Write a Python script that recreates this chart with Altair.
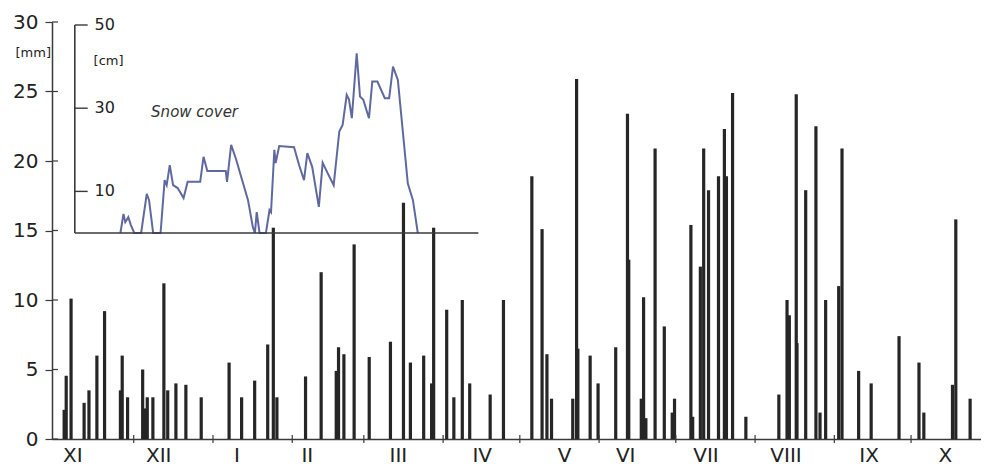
import altair as alt
import pandas as pd

# ---- data ----
months = ["XI", "XII", "I", "II", "III", "IV", "V", "VI", "VII", "VIII", "IX", "X"]
month_label_day = [6.2, 39.8, 70.4, 97.9, 133.5, 166.3, 198.5, 222.4, 253.8, 285.1, 317.6, 347.4]
month_start_day = [30, 61, 92, 120, 151, 181, 212, 242, 273, 304, 334]

bar_day = [2.8, 3.6, 5.5, 10.6, 12.5, 15.6, 18.6, 24.8, 25.5, 27.6, 33.5, 34.3, 35.3, 37.5,
           41.8, 43.3, 46.5, 50.4, 56.4, 67.3, 72.2, 77.3, 82.4, 84.6, 86.0, 97.2, 103.3,
           109.2, 110.1, 112.2, 116.2, 122.1, 130.4, 135.5, 138.2, 143.4, 146.5, 147.3,
           152.4, 155.2, 158.5, 161.4, 169.4, 174.6, 185.7, 189.7, 191.6, 193.4, 201.7,
           203.2, 203.7, 208.5, 211.6, 218.5, 223.1, 223.6, 228.5, 229.4, 230.3, 233.9,
           237.5, 240.6, 241.5, 247.9, 248.6, 251.6, 252.9, 254.8, 258.7, 261.0, 261.8,
           264.2, 269.4, 282.3, 285.5, 286.4, 289.1, 289.4, 292.8, 296.8, 298.4, 300.6,
           305.7, 307.0, 313.5, 318.4, 329.3, 337.1, 339.0, 350.2, 351.5, 357.1]
bar_mm = [2.1, 4.55, 10.1, 2.6, 3.5, 6.0, 9.2, 3.5, 6.0, 3.0, 5.0, 2.2, 3.0, 3.0,
          11.2, 3.5, 4.0, 3.9, 3.0, 5.5, 3.0, 4.2, 6.8, 15.2, 3.0, 4.5, 12.0,
          4.9, 6.6, 6.1, 14.0, 5.9, 7.0, 17.0, 5.5, 6.0, 4.0, 15.2,
          9.3, 3.0, 10.0, 4.0, 3.2, 10.0, 18.9, 15.1, 6.1, 2.9, 2.9,
          25.9, 6.5, 6.0, 4.0, 6.6, 23.4, 12.9, 2.9, 10.2, 1.5, 20.9,
          8.1, 1.9, 2.9, 15.4, 1.6, 12.4, 20.9, 17.9, 18.9, 22.3, 18.9,
          24.9, 1.6, 3.2, 10.0, 8.9, 24.8, 6.9, 17.9, 22.5, 1.9, 10.0,
          11.0, 20.9, 4.9, 4.0, 7.4, 5.5, 1.9, 3.9, 15.8, 2.9]

snow_day = [24.8, 26.0, 26.7, 27.9, 28.9, 30.2, 32.9, 35.1, 36.0, 37.6, 40.5, 42.1, 42.9,
            44.1, 45.4, 47.2, 49.5, 51.1, 56.0, 57.3, 58.8, 66.0, 66.5, 68.1, 70.0, 74.7,
            76.6, 77.4, 78.1, 79.2, 81.7, 83.1, 83.7, 85.0, 85.5, 86.9, 92.7, 94.7, 96.6,
            97.9, 99.8, 102.4, 103.9, 105.6, 108.2, 110.4, 111.7, 113.3, 114.2, 115.3,
            117.2, 118.5, 119.8, 122.0, 123.3, 125.3, 128.2, 129.9, 131.4, 133.3, 137.2,
            139.2, 141.1]
snow_cm = [0, 4.6, 2.6, 3.8, 1.9, 0, 0, 9.4, 7.9, 0, 0, 12.7, 11.5,
           16.3, 11.5, 10.8, 8.4, 12.3, 12.3, 18.3, 14.9, 14.9, 12.3, 21.2, 17.8, 7.9,
           1.4, 0, 5.0, 0, 0, 5.5, 5.0, 20.0, 16.8, 20.9, 20.6, 16.3, 12.7,
           19.2, 15.9, 6.3, 16.9, 14.7, 11.5, 24.4, 26.0, 33.2, 32.1, 27.6,
           43.2, 32.8, 32.0, 27.6, 36.4, 36.4, 32.4, 32.4, 40.0, 36.8, 11.9,
           7.9, 0]

mm_ticks = [0, 5, 10, 15, 20, 25, 30]
cm_ticks = [10, 30, 50]

# ---- layout ----
W, H = 929, 417
FONT = "DejaVu Sans"
AX = "#3a3a3a"

x_scale = alt.Scale(domain=[0, 359.4], nice=False, zero=False)
y_scale = alt.Scale(domain=[0, 30], nice=False)
snow_scale = alt.Scale(domain=[0, 50], range=[211, 3], nice=False)

bars_df = pd.DataFrame({"day": bar_day, "mm": bar_mm})
snow_df = pd.DataFrame({"day": snow_day, "cm": snow_cm})
mlab_df = pd.DataFrame({"day": month_label_day, "m": months})
mstart_df = pd.DataFrame({"day": month_start_day})
ytick_df = pd.DataFrame({"v": mm_ticks})
ctick_df = pd.DataFrame({"cm": cm_ticks, "lab": [str(v) for v in cm_ticks], "x0": 6.96, "x1": 12.0, "xl": 14.7})

bars = alt.Chart(bars_df).mark_bar(width=3.2, color="#262626").encode(
    x=alt.X("day:Q", scale=x_scale,
            axis=alt.Axis(title=None, labels=False, ticks=False, grid=False,
                          domainColor=AX, domainWidth=1.5)),
    y=alt.Y("mm:Q", scale=y_scale,
            axis=alt.Axis(title=None, values=mm_ticks, tickSize=7, tickColor=AX, tickWidth=1.2,
                          domainColor=AX, domainWidth=1.5, labelFont=FONT, labelFontSize=20,
                          labelColor="#222", labelPadding=7, grid=False)),
)

ytick_in = alt.Chart(ytick_df).mark_rule(color=AX, strokeWidth=1.2).encode(
    y=alt.Y("v:Q", scale=y_scale), x=alt.value(0), x2=alt.value(6))

mticks = alt.Chart(mstart_df).mark_rule(color=AX, strokeWidth=1.2).encode(
    x=alt.X("day:Q", scale=x_scale), y=alt.value(H - 4), y2=alt.value(H + 4))

mlabels = alt.Chart(mlab_df).mark_text(font=FONT, fontSize=20, color="#222",
                                       baseline="alphabetic").encode(
    x=alt.X("day:Q", scale=x_scale), y=alt.value(H + 23), text="m:N")

mm_lab = alt.Chart(pd.DataFrame({"v": [27.8], "t": ["[mm]"]})).mark_text(
    font=FONT, fontSize=13, color="#222", align="right", baseline="middle").encode(
    x=alt.value(-1), y=alt.Y("v:Q", scale=y_scale), text="t:N")

main = alt.layer(bars, ytick_in, mticks, mlabels, mm_lab)

# ---- snow cover inset ----
snow_line = alt.Chart(snow_df).mark_line(color="#5f69a0", strokeWidth=2).encode(
    x=alt.X("day:Q", scale=x_scale),
    y=alt.Y("cm:Q", scale=snow_scale, axis=None))

inset_axis = alt.Chart(pd.DataFrame({"day": [6.96], "lo": [0], "hi": [50]})).mark_rule(
    color=AX, strokeWidth=1.6).encode(
    x=alt.X("day:Q", scale=x_scale),
    y=alt.Y("lo:Q", scale=snow_scale, axis=None), y2="hi:Q")

inset_base = alt.Chart(pd.DataFrame({"x0": [6.96], "x1": [164.8], "cm": [0]})).mark_rule(
    color=AX, strokeWidth=1.6).encode(
    x=alt.X("x0:Q", scale=x_scale), x2="x1:Q",
    y=alt.Y("cm:Q", scale=snow_scale, axis=None))

inset_ticks = alt.Chart(ctick_df).mark_rule(color=AX, strokeWidth=1.4).encode(
    x=alt.X("x0:Q", scale=x_scale), x2="x1:Q",
    y=alt.Y("cm:Q", scale=snow_scale, axis=None))

inset_labels = alt.Chart(ctick_df).mark_text(font=FONT, fontSize=16, color="#222",
                                             align="left", baseline="middle").encode(
    x=alt.X("xl:Q", scale=x_scale),
    y=alt.Y("cm:Q", scale=snow_scale, axis=None), text="lab:N")

cm_lab = alt.Chart(pd.DataFrame({"d": [14.3], "cm": [41.3], "t": ["[cm]"]})).mark_text(
    font=FONT, fontSize=13, color="#222", align="left", baseline="middle").encode(
    x=alt.X("d:Q", scale=x_scale),
    y=alt.Y("cm:Q", scale=snow_scale, axis=None), text="t:N")

snow_title = alt.Chart(pd.DataFrame({"d": [53.8], "cm": [29.1], "t": ["Snow cover"]})).mark_text(
    font=FONT, fontSize=15, fontStyle="italic", color="#333", align="center",
    baseline="middle").encode(
    x=alt.X("d:Q", scale=x_scale),
    y=alt.Y("cm:Q", scale=snow_scale, axis=None), text="t:N")

inset = alt.layer(snow_line, inset_axis, inset_base, inset_ticks, inset_labels, cm_lab, snow_title)

chart = alt.layer(main, inset).resolve_scale(y="independent").properties(
    width=W, height=H,
    padding={"left": 44, "top": 14, "right": 0, "bottom": 28},
    autosize=alt.AutoSizeParams(type="none"),
    background="white",
).configure_view(stroke=None)

chart.save("out.html", embed_options={"renderer": "svg", "actions": False})
